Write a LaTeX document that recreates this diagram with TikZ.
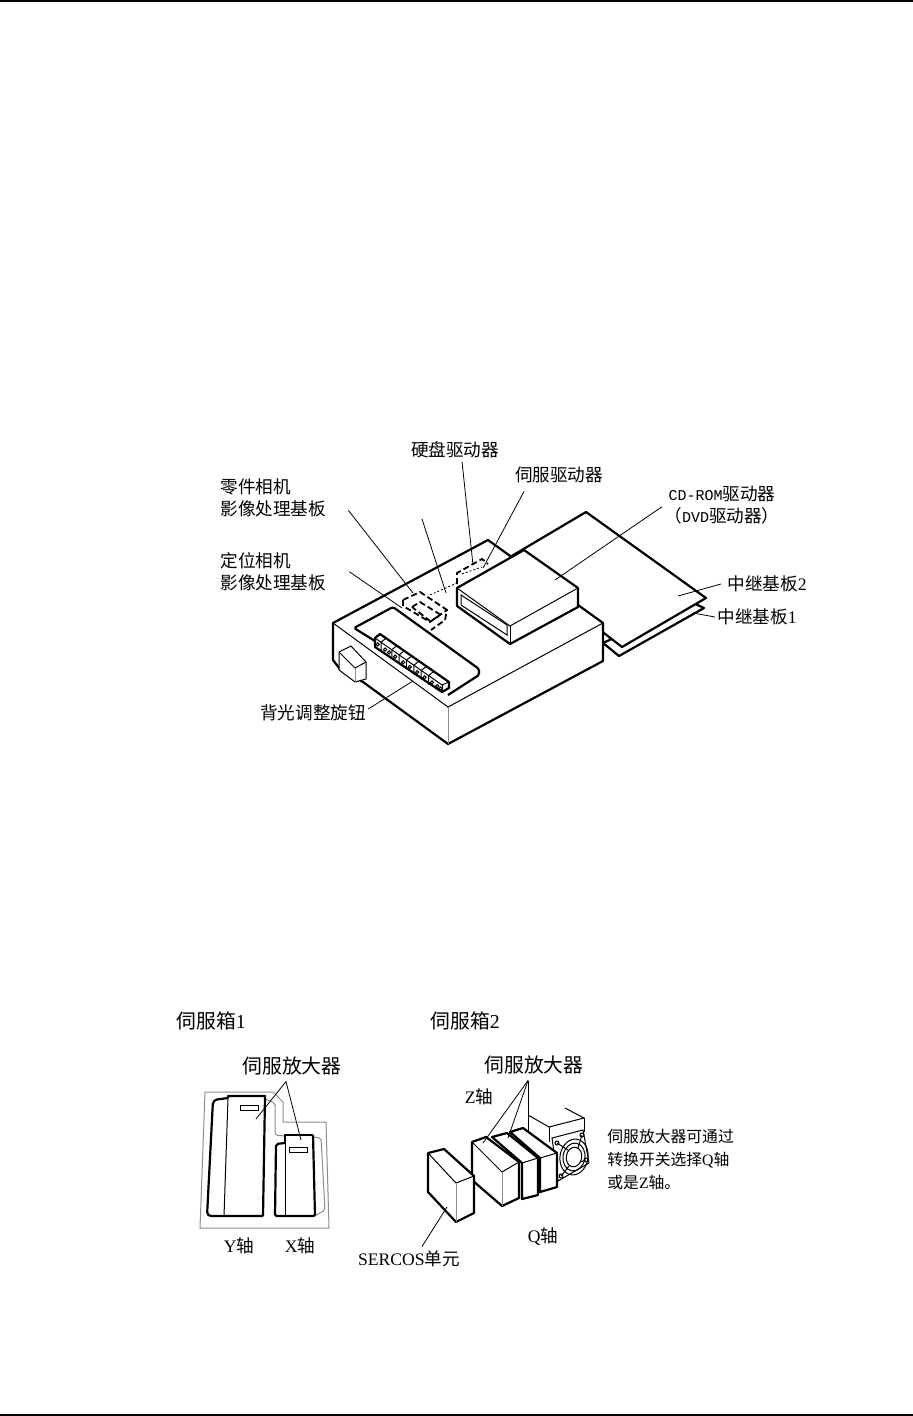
\documentclass[tikz,border=0pt]{standalone}
\usepackage{fontspec}
\setmainfont{Liberation Serif}
\setmonofont{Liberation Mono}
\newfontfamily\cjk{Noto Sans CJK SC}
\newcommand{\zh}[1]{{\cjk #1}}
\newcommand{\drv}[1]{{\ttfamily\fontsize{7.5pt}{11.2pt}\selectfont #1}}
\usetikzlibrary{positioning}
\definecolor{faint}{gray}{0.55}

\begin{document}
\begin{tikzpicture}[x=0.5pt, y=-0.5pt,
  bold/.style={draw, line width=1.1pt, fill=white, line join=round},
  edge/.style={draw, line width=0.5pt},
  shade/.style={draw=faint, line width=0.5pt},
  leader/.style={draw, line width=0.4pt},
  hidden/.style={draw, line width=0.9pt, dash pattern=on 3pt off 1.6pt},
  hint/.style={draw, line width=0.4pt, dash pattern=on 1pt off 1pt},
  lblA/.style={font=\fontsize{8.8pt}{11.2pt}\selectfont, align=left, inner sep=0pt},
  lblB/.style={font=\fontsize{9.9pt}{12pt}\selectfont, inner sep=0pt},
  lblC/.style={font=\fontsize{7.9pt}{11.5pt}\selectfont, align=left, inner sep=0pt}]
\path[use as bounding box] (0,0) rectangle (913,1416);
\draw[line width=1pt] (0,1) -- (913,1);
\draw[line width=1pt] (0,1415) -- (913,1415);

\node[lblA, anchor=center] (hdd) at (455,450) {\zh{硬盘驱动器}};
\node[lblA, anchor=center] (srv) at (559,475) {\zh{伺服驱动器}};
\node[lblA, anchor=north west] (part) at (220,478) {\zh{零件相机}\\ \zh{影像处理基板}};
\node[lblA, anchor=north west] (fid) at (220,552) {\zh{定位相机}\\ \zh{影像处理基板}};
\node[lblA, anchor=center, align=center] (cd) at (722,505)
  {\drv{CD-ROM}\zh{驱动器}\\ \zh{（}\drv{DVD}\zh{驱动器）}};
\node[lblA, anchor=center] (rel2) at (767,584) {\zh{中继基板}2};
\node[lblA, anchor=center] (rel1) at (757,617) {\zh{中继基板}1};
\node[lblA, anchor=center] (back) at (313,713) {\zh{背光调整旋钮}};

\filldraw[bold] (603,643) -- (619,656) -- (704,608) -- (691,602) -- cycle;
\filldraw[bold] (510,557) -- (586,512) -- (706,598) -- (622,647) -- (600,630) -- cycle;

\filldraw[bold] (333,623) -- (488,540) -- (603,623) -- (603,661) -- (448,744)
  -- (363,682) -- (339,668) -- (333,660) -- cycle;
\draw[edge] (333,623) -- (448,707) -- (603,623);
\draw[shade] (448,707) -- (448,744);

\draw[bold, fill=none, rounded corners=0.8pt] (375,641) -- (354,628) -- (393,607) -- (479,669)
  -- (479,675) -- (448,695);
\draw[hidden] (403,600) -- (420,592) -- (447,610) -- (445,620) -- (431,630);
\draw[hidden] (403,600) -- (403,606) -- (430,622) -- (447,610);
\draw[hidden] (412,607) -- (420,602) -- (441,615) -- (430,621) -- (412,607);
\draw[hidden] (457,584) -- (457,573) -- (482,559) -- (488,564);
\draw[hint] (430,595) -- (457,583);
\draw[hint] (462,574) -- (482,567);

\filldraw[bold] (457,588) -- (524,550) -- (578,588) -- (578,607) -- (510,644) -- (457,606) -- cycle;
\draw[edge] (457,588) -- (510,626) -- (578,588);
\draw[edge] (510,626) -- (510,644);
\draw[edge] (461,595) -- (461,605) -- (507,635) -- (507,625) -- cycle;

\filldraw[bold] (375,638) -- (380,634) -- (449,682) -- (449,688) -- (442,692)
  -- (375,647) -- cycle;
\draw[edge] (375,638) -- (442,685) -- (449,682);
\draw[edge] (442,685) -- (442,692);
\foreach \t in {0.09,0.25,0.36,0.47,0.58,0.69,0.80}
  \draw[edge] ({375+67*\t},{638+47*\t}) -- ++(0,9) ({375+67*\t},{638+47*\t}) -- ++(5,-4);
\foreach \t in {0.04,0.15,0.21,0.30,0.42,0.52,0.63,0.74,0.85,0.93,0.98}
  \draw[edge] ({375+67*\t},{642.5+47*\t}) circle[radius=0.8pt];

\filldraw[edge, fill=white] (339,652) -- (351,646) -- (366,662) -- (366,679) -- (355,682) -- (339,670) -- cycle;
\draw[edge] (339,652) -- (355,668) -- (366,662);
\draw[shade] (355,668) -- (355,682);

\coordinate (tailPart) at (422,519);
\coordinate (tipPart) at (413,593);
\coordinate (tipPartB) at (446,593);
\coordinate (tipFid) at (402,608);
\coordinate (tipHdd) at (473,565);
\coordinate (tipSrv) at (483,568);
\coordinate (tipCd) at (555,580);
\coordinate (tipRelB) at (678,596);
\coordinate (tipRelA) at (693,613);
\coordinate (tipBack) at (413,681);
\draw[leader] ([xshift=11pt,yshift=3.5pt]part.south east) -- (tipPart);
\draw[leader] (tailPart) -- (tipPartB);
\draw[leader] ([xshift=11.5pt]fid.east) -- (tipFid);
\draw[leader] ([xshift=3.5pt,yshift=-1.5pt]hdd.south) -- (tipHdd);
\draw[leader] ([xshift=-17.5pt,yshift=-4pt]srv.south) -- (tipSrv);
\draw[leader] ([xshift=-30pt,yshift=9pt]cd.south) -- (tipCd);
\draw[leader] ([xshift=-3pt]rel2.west) -- (tipRelB);
\draw[leader] ([xshift=-1pt]rel1.west) -- (tipRelA);
\draw[leader] ([xshift=1pt,yshift=2pt]back.east) -- (tipBack);

\node[lblB, anchor=west] (boxA) at (176,1021) {\zh{伺服箱}1};
\node[lblB, anchor=west] (boxB) at (430,1021) {\zh{伺服箱}2};
\node[lblB, anchor=center] (ampA) at (292,1066) {\zh{伺服放大器}};
\node[lblB, anchor=center] (ampB) at (534,1065) {\zh{伺服放大器}};
\node[lblA, anchor=center] (axY) at (239,1246) {Y\zh{轴}};
\node[lblA, anchor=center] (axX) at (300,1246) {X\zh{轴}};
\node[lblA, anchor=center] (axZ) at (479,1097) {Z\zh{轴}};
\node[lblA, anchor=center] (axQ) at (543,1237) {Q\zh{轴}};
\node[lblA, anchor=center] (sercos) at (409,1259) {SERCOS\zh{单元}};
\node[lblC, anchor=north west] (note) at (607,1129)
  {\zh{伺服放大器可通过}\\ \zh{转换开关选择}Q\zh{轴}\\ \zh{或是}Z\zh{轴。}};

\draw[shade] (205,1092) -- (273,1092) -- (283,1102) -- (283,1122) -- (326,1122) -- (329,1228) -- (200,1228) -- cycle;
\draw[shade, rounded corners=1pt] (265,1099) -- (275,1103) -- (275,1135) -- (285,1136);
\draw[shade, rounded corners=1pt] (313,1137) -- (321,1138) -- (325,1210) -- (315,1216);
\draw[bold, fill=none, rounded corners=2pt] (228,1098) -- (213,1100) -- (207,1216) -- (263,1216);
\draw[bold, fill=none] (228,1098) -- (228,1096) -- (265,1096) -- (263,1216);
\draw[edge] (228,1098) -- (224,1216);
\draw[bold, fill=none, rounded corners=1pt] (285,1143) -- (276,1144) -- (275,1216) -- (315,1216) -- (313,1135);
\draw[bold, fill=none] (285,1143) -- (285,1135) -- (313,1135);
\draw[edge] (285,1135) -- (285,1216);
\node[draw, line width=0.5pt, minimum width=9pt, minimum height=2.8pt, inner sep=0pt] (slotY) at (249,1108) {};
\node[draw, line width=0.5pt, minimum width=9pt, minimum height=2.8pt, inner sep=0pt] (slotX) at (298,1150) {};
\coordinate (tipY) at (256,1119);
\coordinate (tipX) at (301,1140);
\draw[leader] ([xshift=-3pt,yshift=-3pt]ampA.south) -- (tipY);
\draw[leader] ([xshift=-3pt,yshift=-3pt]ampA.south) -- (tipX);

\draw[edge] (528,1115) -- (549,1127) -- (584,1118) -- (565,1108);
\draw[edge] (528,1115) -- (528,1132);
\draw[edge] (549,1127) -- (549,1142);
\draw[edge] (584,1118) -- (584,1132);
\filldraw[edge, fill=white] (552,1138) -- (583,1130) -- (589,1163) -- (558,1181) -- cycle;
\foreach \r in {1.0,0.78,0.55}
  \draw[edge] (574,1157) ellipse[x radius=7pt*\r, y radius=9pt*\r, rotate=-10];
\draw[edge] (557,1143) -- (568,1150) (582,1135) -- (578,1148) (586,1160) -- (580,1162) (561,1176) -- (569,1166);
\foreach \a/\b in {557/1143,582/1135,586/1160,561/1176}
  \draw[edge] (\a,\b) circle[radius=1pt];

\filldraw[bold] (510,1132) -- (523,1128) -- (557,1153) -- (557,1187) -- (540,1192) -- (540,1158) -- cycle;
\draw[edge] (540,1158) -- (557,1153);
\filldraw[bold] (492,1137) -- (507,1133) -- (538,1158) -- (538,1195) -- (522,1199) -- (522,1163) -- cycle;
\draw[edge] (522,1163) -- (538,1158);
\filldraw[bold] (472,1142) -- (486,1137) -- (519,1162) -- (519,1198) -- (502,1206) -- (472,1180) -- cycle;
\draw[edge] (472,1142) -- (502,1172) -- (519,1162);
\draw[shade] (502,1172) -- (502,1206);

\filldraw[bold] (428,1153) -- (444,1149) -- (474,1176) -- (474,1213) -- (456,1222) -- (428,1192) -- cycle;
\draw[edge] (428,1153) -- (456,1183) -- (474,1176);
\draw[shade] (456,1183) -- (456,1222);

\coordinate (tipZa) at (483,1143);
\coordinate (tipZb) at (508,1138);
\coordinate (tipZc) at (528,1132);
\coordinate (tipSer) at (447,1207);
\draw[leader] ([xshift=-3pt,yshift=-3pt]ampB.south) -- (tipZa);
\draw[leader] ([xshift=-3pt,yshift=-3pt]ampB.south) -- (tipZb);
\draw[leader] ([xshift=-3pt,yshift=-3pt]ampB.south) -- (tipZc);
\draw[leader] ([xshift=6.5pt,yshift=2pt]sercos.north) -- (tipSer);
\end{tikzpicture}
\end{document}
